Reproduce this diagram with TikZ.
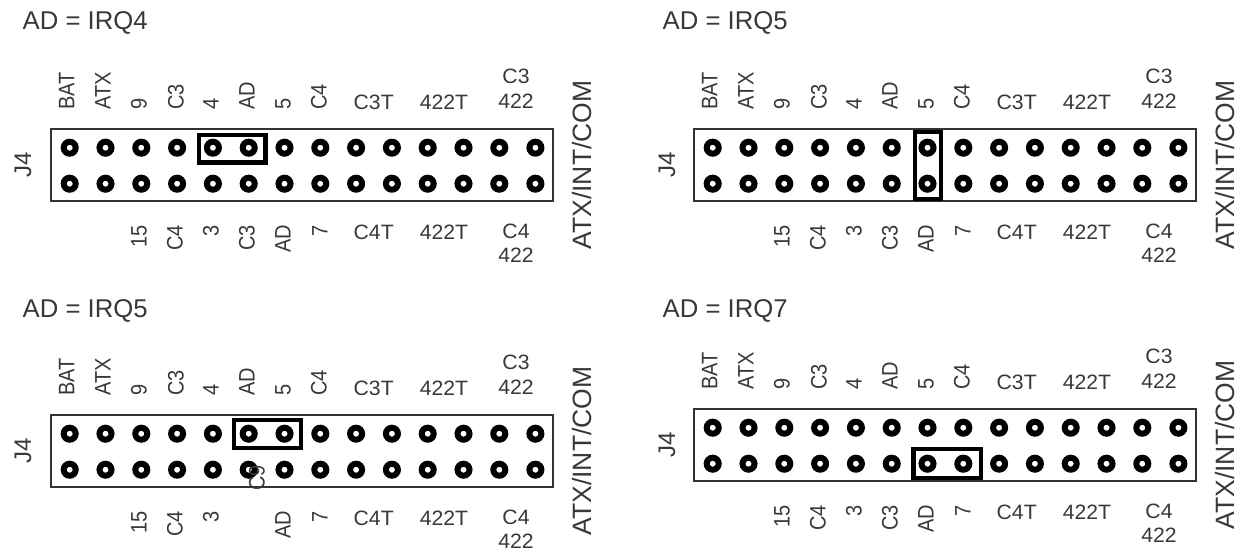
\documentclass[tikz,border=0pt]{standalone}
\usepackage{fontspec}
\setmainfont{Liberation Sans}
\newcommand{\sml}{\fontsize{20}{24}\selectfont}
\newcommand{\hlabel}[1]{\scalebox{1.06}[1.04]{\sml #1}}
\newcommand{\vlabel}[1]{\scalebox{1}[1.12]{\sml #1}}
\tikzset{
  hole/.style={circle,draw=black,fill=white,line width=6pt,minimum size=12pt,inner sep=0pt},
  board/.style={draw=black!80,line width=1.7pt,fill=white,inner sep=0pt},
  jumper/.style={draw=black,line width=4.2pt,inner sep=0pt},
  txt/.style={text=black!78,inner sep=0pt},
  title/.style={txt,font=\fontsize{25.7}{30}\selectfont,anchor=base west},
  big/.style={txt,font=\fontsize{26.5}{30}\selectfont,rotate=90},
  jfour/.style={txt,font=\fontsize{24}{28}\selectfont,rotate=90},
  uplabel/.style={txt,rotate=90,anchor=west},
  dnlabel/.style={txt,rotate=90,anchor=east},
  hl/.style={txt}
}
% #1 name, #2 dx, #3 dy, #4 title baseline y, #5 title, #6 J4 x
\newcommand{\panel}[6]{%
  \node[title] (#1title) at (#2+22.5-3*#2/643,#4) {#5};
  \begin{scope}[shift={(#2,#3)}]
    \node[board,minimum width=502.3pt,minimum height=72pt] (#1board) at (301.9,165) {};
    \node[jfour] (#1j) at (#6,165) {J4};
    \node[big] (#1atx) at (582,165) {ATX/INT/COM};
    \foreach \n/\x in {a/69.7,b/105.5,c/141.3,d/177.1,e/212.9,f/248.7,g/284.5,h/320.3,i/356.1,j/391.9,k/427.7,l/463.5,m/499.3,n/535.4}{
      \node[hole] (#1u\n) at (\x,147.7) {};
      \node[hole] (#1d\n) at (\x,183.7) {};
    }
    \foreach \n/\x/\t in {a/66.7/BAT,b/103/ATX,c/139/9,d/176/C3,e/211/4,f/247/AD,g/283/5,h/319/C4}{
      \node[uplabel] (#1tl\n) at (\x,110) {\vlabel{\t}};
    }
    \foreach \n/\x/\t in {c/139/15,d/175/C4,e/211/3,g/283/AD,h/320/7}{
      \node[dnlabel] (#1bl\n) at (\x,225) {\vlabel{\t}};
    }
    \node[hl] (#1c3t) at (373.7,102.5) {\hlabel{C3T}};
    \node[hl] (#1t422) at (444,102.5) {\hlabel{422T}};
    \node[hl] (#1c3) at (516,76) {\hlabel{C3}};
    \node[hl] (#1c3b) at (516,101) {\hlabel{422}};
    \node[hl] (#1c4t) at (373.7,232.5) {\hlabel{C4T}};
    \node[hl] (#1b422) at (444,232.5) {\hlabel{422T}};
    \node[hl] (#1c4) at (516,231) {\hlabel{C4}};
    \node[hl] (#1c4b) at (516,255.5) {\hlabel{422}};
  \end{scope}
}
\begin{document}
\begin{tikzpicture}[x=1pt,y=-1pt]
\useasboundingbox (0,0) rectangle (1241,552);
\panel{A}{0}{0}{29.5}{AD = IRQ4}{23}
\panel{B}{643}{0}{29.5}{AD = IRQ5}{24}
\panel{C}{0}{286}{317.5}{AD = IRQ5}{23}
\panel{D}{643}{280}{317.5}{AD = IRQ7}{24}
% lower C3 labels
\node[dnlabel] (Alc3) at (247,225) {\vlabel{C3}};
\node[dnlabel] (Blc3) at (890,225) {\vlabel{C3}};
\node[dnlabel] (Dlc3) at (890,505) {\vlabel{C3}};
\node[txt,rotate=90] (Cstray) at (257,478) {\vlabel{C9}};
% jumpers
\node[jumper,minimum width=66.8pt,minimum height=27.8pt] (Aj1) at (232,148.5) {};
\node[jumper,minimum width=25.8pt,minimum height=67.3pt] (Bj1) at (928,165.7) {};
\node[jumper,minimum width=66.8pt,minimum height=27.8pt] (Cj1) at (267.2,434) {};
\node[jumper,minimum width=67.3pt,minimum height=28.8pt] (Dj1) at (947.2,463.5) {};
\end{tikzpicture}
\end{document}
